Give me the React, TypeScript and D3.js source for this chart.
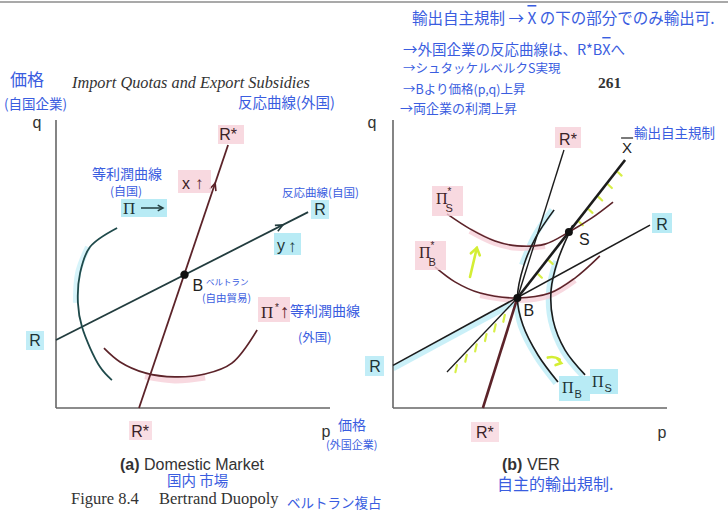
import React from 'react';
import * as d3 from 'd3';

type Pt = [number, number];

// ---- (a) Domestic Market: Bertrand equilibrium (price space, 0–100) ----
const homeReactionA: Pt[] = [[0, 23.6], [92, 68]];
const foreignReactionA: Pt[] = [[30.3, 0], [62.8, 91.3]];
const bertrandA: Pt = [46.9, 46.3];
const homeIsoProfitA: Pt[] = [[22.3, 62.5], [12.4, 55.9], [8.8, 46.9], [8.0, 36.5], [9.5, 28.1], [16.1, 14.2], [20.4, 9.7]];
const foreignIsoProfitA: Pt[] = [[17.5, 20.8], [23.4, 16], [32.5, 12.2], [43.4, 10.8], [54.4, 11.8], [64.2, 15.6], [73.4, 27.1]];

// ---- (b) VER: export cap turns B into the Stackelberg point S ----
const homeReactionB: Pt[] = [[0, 14.8], [93.8, 63.5]];
const foreignReactionB: Pt[] = [[32.8, 0], [62.4, 89.6]];
const bertrandB: Pt = [45.4, 38.2];
const stackelbergB: Pt = [64.2, 61.1];
const exportCapTop: Pt = [84.7, 86.1];
const exportCapLow: Pt = [19.7, 12.5];
const foreignIsoS: Pt[] = [[19.7, 67.4], [28.1, 62.2], [37.2, 58.0], [45.3, 56.3], [55.5, 56.9], [64.2, 61.1], [72.6, 66.0], [80.3, 71.5]];
const foreignIsoB: Pt[] = [[15.3, 49.0], [22.6, 43.8], [31.8, 39.9], [45.4, 38.2], [57.3, 39.9], [66.4, 45.1], [75.5, 52.8]];
const homeIsoB: Pt[] = [[58.8, 68.8], [52.2, 59.4], [47.8, 49.7], [45.4, 38.2], [47.4, 28.8], [52.9, 18.4], [60.2, 9.0]];
const homeIsoS: Pt[] = [[65.6, 63.5], [60.2, 51.4], [57.7, 41.0], [58.4, 30.6], [62.8, 20.1], [70.1, 11.5]];

// Annotation notes
const notesTop = [
  '→外国企業の反応曲線は、R*B',
  '→シュタッケルベルクS実現',
  '→Bより価格(p,q)上昇',
  '→両企業の利潤上昇',
];

const sans = "'Liberation Sans', Arial, sans-serif";
const serif = "'Liberation Serif', 'Times New Roman', serif";
const hand = "'Noto Sans CJK JP', sans-serif";
const BLUE = '#3a5de0';
const CYAN = '#a6e6f3';
const PINK = '#f6d0d8';
const YEL = '#d4ee34';
const TEAL = '#223c3e';
const MAROON = '#5c2329';
const INK = '#1c1c1c';

function chevron(tip: Pt, from: Pt, len = 8, spread = 0.42) {
  const a = Math.atan2(tip[1] - from[1], tip[0] - from[0]);
  const p1 = [tip[0] - len * Math.cos(a - spread), tip[1] - len * Math.sin(a - spread)];
  const p2 = [tip[0] - len * Math.cos(a + spread), tip[1] - len * Math.sin(a + spread)];
  return `M${p1[0]},${p1[1]}L${tip[0]},${tip[1]}L${p2[0]},${p2[1]}`;
}

function lerp(a: Pt, b: Pt, t: number): Pt {
  return [a[0] + (b[0] - a[0]) * t, a[1] + (b[1] - a[1]) * t];
}

export default function App() {
  const xA = d3.scaleLinear().domain([0, 100]).range([56, 330]);
  const xB = d3.scaleLinear().domain([0, 100]).range([393, 667]);
  const y = d3.scaleLinear().domain([0, 100]).range([408, 120]);

  const pa = (d: Pt): Pt => [xA(d[0]), y(d[1])];
  const pb = (d: Pt): Pt => [xB(d[0]), y(d[1])];

  const straightA = d3.line<Pt>().x(d => xA(d[0])).y(d => y(d[1]));
  const smoothA = d3.line<Pt>().x(d => xA(d[0])).y(d => y(d[1])).curve(d3.curveCatmullRom.alpha(0.5));
  const straightB = d3.line<Pt>().x(d => xB(d[0])).y(d => y(d[1]));
  const smoothB = d3.line<Pt>().x(d => xB(d[0])).y(d => y(d[1])).curve(d3.curveCatmullRom.alpha(0.5));

  // arrowheads on the reaction lines in (a)
  const rTip = pa(lerp(homeReactionA[0], homeReactionA[1], 0.9));
  const rFrom = pa(homeReactionA[0]);
  const rsTip = pa(lerp(foreignReactionA[0], foreignReactionA[1], 0.855));
  const rsFrom = pa(foreignReactionA[0]);

  // hatch marks showing the feasible side of the export cap
  const Bp = pb(bertrandB);
  const Tp = pb(exportCapTop);
  const Lp = pb(exportCapLow);
  const dirU = [Tp[0] - Bp[0], Tp[1] - Bp[1]];
  const nU = Math.hypot(dirU[0], dirU[1]);
  const perpU: Pt = [-dirU[1] / nU, dirU[0] / nU]; // lower-right side
  const hatchUpper = [0.18, 0.28, 0.56, 0.65, 0.74, 0.83, 0.92].map(t => {
    const p = lerp(Bp, Tp, t);
    return `M${p[0] + perpU[0] * 2},${p[1] + perpU[1] * 2}l${perpU[0] * 7 - 2},${perpU[1] * 7 - 1}`;
  });
  const hatchLower = [0.2, 0.33, 0.46, 0.6, 0.74, 0.88].map(t => {
    const p = lerp(Bp, Lp, t);
    return `M${p[0] + 1.5},${p[1] + 2}l-1.5,7`;
  });

  const Sp = pb(stackelbergB);
  const Ap = pa(bertrandA);

  return (
    <svg width={728} height={512} viewBox="0 0 728 512" style={{ display: 'block', background: '#fff' }}>
      <style>{'body{margin:0}'}</style>
      <rect width={728} height={512} fill="#fff" />
      <line x1={0} x2={728} y1={2} y2={2} stroke="#a9a9a9" strokeWidth={2} />

      {/* running head */}
      <text x={72} y={88} fontFamily={serif} fontStyle="italic" fontSize={16.3} fill="#333">Import Quotas and Export Subsidies</text>
      <text x={598} y={88} fontFamily={serif} fontWeight="bold" fontSize={15.5} fill="#333">261</text>

      {/* ===== panel (a) ===== */}
      <g>
        {/* highlights */}
        <path d={smoothA(homeIsoProfitA.slice(1, 4)) || ''} fill="none" stroke={CYAN} strokeWidth={6} opacity={0.45} transform="translate(-2,0)" />
        <path d={smoothA(foreignIsoProfitA.slice(2, 5)) || ''} fill="none" stroke={PINK} strokeWidth={7} opacity={0.8} transform="translate(0,3)" />

        <line x1={xA(0)} x2={xA(0)} y1={y(0)} y2={y(100)} stroke="#666" strokeWidth={1.6} />
        <line x1={xA(0)} x2={xA(100)} y1={y(0)} y2={y(0)} stroke="#666" strokeWidth={1.6} />

        <path d={straightA(homeReactionA) || ''} stroke={TEAL} strokeWidth={1.8} fill="none" />
        <path d={straightA(foreignReactionA) || ''} stroke={MAROON} strokeWidth={1.8} fill="none" />
        <path d={chevron(rTip, rFrom)} stroke={TEAL} strokeWidth={1.6} fill="none" />
        <path d={chevron(rsTip, rsFrom)} stroke={MAROON} strokeWidth={1.6} fill="none" />
        <path d={smoothA(homeIsoProfitA) || ''} stroke="#1f4a4b" strokeWidth={1.8} fill="none" />
        <path d={smoothA(foreignIsoProfitA) || ''} stroke={MAROON} strokeWidth={1.7} fill="none" />
        <circle cx={Ap[0]} cy={Ap[1]} r={4.2} fill="#111" />

        {/* label tags */}
        <rect x={218} y={125} width={26} height={19} fill={PINK} opacity={0.8} />
        <rect x={129} y={421} width={23} height={19} fill={PINK} opacity={0.7} />
        <rect x={178} y={170} width={33} height={23} fill={PINK} opacity={0.8} />
        <rect x={258} y={297} width={32} height={25} fill={PINK} opacity={0.8} />
        <rect x={26} y={331} width={18} height={19} fill={CYAN} opacity={0.7} />
        <rect x={311} y={200} width={18} height={19} fill={CYAN} opacity={0.7} />
        <rect x={274} y={233} width={27} height={22} fill={CYAN} opacity={0.8} />
        <rect x={121} y={199} width={46} height={18} fill={CYAN} opacity={0.8} />

        <text x={37} y={128} textAnchor="middle" fontFamily={sans} fontSize={16} fill="#333">q</text>
        <text x={326} y={437} textAnchor="middle" fontFamily={sans} fontSize={16} fill="#333">p</text>
        <text x={xA(foreignReactionA[1][0])} y={140} textAnchor="middle" fontFamily={sans} fontSize={16} fill="#3a2226">R*</text>
        <text x={xA(foreignReactionA[0][0]) + 1} y={437} textAnchor="middle" fontFamily={sans} fontSize={16} fill="#3a2226">R*</text>
        <text x={xA(homeReactionA[1][0]) + 12} y={215} textAnchor="middle" fontFamily={sans} fontSize={16} fill="#1d3335">R</text>
        <text x={35} y={346} textAnchor="middle" fontFamily={sans} fontSize={16} fill="#1d3335">R</text>
        <text x={Ap[0] + 8} y={Ap[1] + 16} fontFamily={sans} fontSize={16} fill="#222">B</text>
        <text x={182} y={189} fontFamily={sans} fontSize={16} fill="#3a2226">x</text>
        <text x={195} y={189} fontFamily={sans} fontSize={17} fill={MAROON}>↑</text>
        <text x={277} y={251} fontFamily={sans} fontSize={16} fill="#1d3335">y</text>
        <text x={288} y={252} fontFamily={sans} fontSize={17} fill={TEAL}>↑</text>
        <text x={123} y={214} fontFamily={serif} fontSize={17} fill="#1d3335">Π</text>
        <line x1={141} x2={162} y1={208} y2={208} stroke={TEAL} strokeWidth={1.5} />
        <path d={chevron([163, 208], [140, 208], 6, 0.5)} stroke={TEAL} strokeWidth={1.5} fill="none" />
        <text x={261} y={318} fontFamily={serif} fontSize={17} fill="#3a2226">Π</text>
        <text x={275} y={311} fontFamily={sans} fontSize={10} fill="#3a2226">*</text>
        <text x={280} y={318} fontFamily={sans} fontSize={19} fill={MAROON}>↑</text>

        {/* handwritten notes */}
        <g fontFamily={hand} fill={BLUE}>
          <text x={10} y={86} fontSize={17}>価格</text>
          <text x={4} y={109} fontSize={13.5}>(自国企業)</text>
          <text x={238} y={108} fontSize={14.5}>反応曲線(外国)</text>
          <text x={92} y={179} fontSize={14}>等利潤曲線</text>
          <text x={110} y={196} fontSize={12}>(自国)</text>
          <text x={282} y={197} fontSize={11.5}>反応曲線(自国)</text>
          <text x={206} y={285} fontSize={8.5}>ベルトラン</text>
          <text x={202} y={302} fontSize={10.5}>(自由貿易)</text>
          <text x={290} y={316} fontSize={14}>等利潤曲線</text>
          <text x={298} y={342} fontSize={12.5}>(外国)</text>
          <text x={338} y={430} fontSize={14}>価格</text>
          <text x={326} y={449} fontSize={11}>(外国企業)</text>
          <text x={167} y={486} fontSize={14.5}>国内 市場</text>
          <text x={287} y={508} fontSize={13.5}>ベルトラン複占</text>
        </g>

        <text x={120} y={470} fontFamily={sans} fontSize={16} fill="#333"><tspan fontWeight="bold">(a)</tspan> Domestic Market</text>
        <text x={71} y={504} fontFamily={serif} fontSize={16.5} fill="#333">Figure 8.4</text>
        <text x={159} y={504} fontFamily={serif} fontSize={16.5} fill="#333">Bertrand Duopoly</text>
      </g>

      {/* ===== panel (b) ===== */}
      <g>
        {/* highlights */}
        <path d={straightB([homeReactionB[0], bertrandB]) || ''} stroke={CYAN} strokeWidth={6} opacity={0.6} fill="none" transform="translate(0,3)" />
        <path d={smoothB(homeIsoB.slice(0, 3)) || ''} stroke={CYAN} strokeWidth={6} opacity={0.6} fill="none" transform="translate(-2,0)" />
        <path d={smoothB(homeIsoB.slice(3)) || ''} stroke={CYAN} strokeWidth={6} opacity={0.6} fill="none" transform="translate(-2,1)" />
        <path d={smoothB(homeIsoS.slice(1)) || ''} stroke={CYAN} strokeWidth={6} opacity={0.6} fill="none" transform="translate(-2,1)" />
        <path d={smoothB(foreignIsoS.slice(1, 5)) || ''} stroke={PINK} strokeWidth={6} opacity={0.8} fill="none" transform="translate(0,2)" />
        <path d={smoothB(foreignIsoB.slice(2, 6)) || ''} stroke={PINK} strokeWidth={6} opacity={0.8} fill="none" transform="translate(0,2)" />

        <line x1={xB(0)} x2={xB(0)} y1={y(0)} y2={y(100)} stroke="#666" strokeWidth={1.6} />
        <line x1={xB(0)} x2={xB(100)} y1={y(0)} y2={y(0)} stroke="#666" strokeWidth={1.6} />

        {/* export cap hatching */}
        <g stroke={YEL} strokeWidth={2.2} strokeLinecap="round" opacity={0.9}>
          {hatchUpper.map((d, i) => <path key={'u' + i} d={d} />)}
          {hatchLower.map((d, i) => <path key={'l' + i} d={d} />)}
        </g>

        <path d={straightB(homeReactionB) || ''} stroke={INK} strokeWidth={1.6} fill="none" />
        <path d={straightB([bertrandB, foreignReactionB[1]]) || ''} stroke={INK} strokeWidth={1.4} fill="none" />
        <path d={straightB([foreignReactionB[0], bertrandB]) || ''} stroke={MAROON} strokeWidth={2.6} fill="none" />
        <path d={straightB([bertrandB, exportCapTop]) || ''} stroke={INK} strokeWidth={2.6} fill="none" />
        <path d={straightB([bertrandB, exportCapLow]) || ''} stroke={INK} strokeWidth={1.3} fill="none" />

        <path d={smoothB(foreignIsoS) || ''} stroke={MAROON} strokeWidth={1.6} fill="none" />
        <path d={smoothB(foreignIsoB) || ''} stroke={MAROON} strokeWidth={1.6} fill="none" />
        <path d={smoothB(homeIsoB) || ''} stroke={INK} strokeWidth={1.6} fill="none" />
        <path d={smoothB(homeIsoS) || ''} stroke={INK} strokeWidth={1.6} fill="none" />

        <circle cx={Bp[0]} cy={Bp[1]} r={4} fill="#111" />
        <circle cx={Sp[0]} cy={Sp[1]} r={4} fill="#111" />

        {/* direction-of-improvement arrows */}
        <g stroke={YEL} strokeWidth={2.6} fill="none" strokeLinecap="round">
          <line x1={xB(28.1)} y1={y(45.5)} x2={xB(30.6)} y2={y(55.6)} />
          <path d={chevron(pb([30.6, 55.6]), pb([28.1, 45.5]), 8, 0.6)} />
          <path d={`M${xB(56.5)},${y(17.5)}q6,-2,12,2`} />
          <path d={chevron([xB(61.4), y(15.6)], [xB(56), y(17)], 6, 0.6)} />
        </g>

        {/* label tags */}
        <rect x={555} y={127} width={26} height={21} fill={PINK} opacity={0.8} />
        <rect x={471} y={422} width={28} height={20} fill={PINK} opacity={0.7} />
        <rect x={432} y={186} width={31} height={30} fill={PINK} opacity={0.8} />
        <rect x={415} y={241} width={31} height={29} fill={PINK} opacity={0.8} />
        <rect x={652} y={213} width={20} height={20} fill={CYAN} opacity={0.8} />
        <rect x={365} y={356} width={19} height={20} fill={CYAN} opacity={0.7} />
        <rect x={559} y={376} width={31} height={25} fill={CYAN} opacity={0.8} />
        <rect x={590} y={369} width={28} height={25} fill={CYAN} opacity={0.8} />

        <text x={372} y={128} textAnchor="middle" fontFamily={sans} fontSize={16} fill="#333">q</text>
        <text x={662} y={438} textAnchor="middle" fontFamily={sans} fontSize={16} fill="#333">p</text>
        <text x={xB(foreignReactionB[1][0]) + 4} y={145} textAnchor="middle" fontFamily={sans} fontSize={16} fill="#3a2226">R*</text>
        <text x={xB(foreignReactionB[0][0]) + 2} y={438} textAnchor="middle" fontFamily={sans} fontSize={16} fill="#3a2226">R*</text>
        <text x={xB(exportCapTop[0]) + 2} y={153} textAnchor="middle" fontFamily={sans} fontSize={15} fill="#222">X</text>
        <line x1={xB(exportCapTop[0]) - 4} x2={xB(exportCapTop[0]) + 8} y1={138} y2={138} stroke="#222" strokeWidth={1.2} />
        <text x={Sp[0] + 10} y={Sp[1] + 13} fontFamily={sans} fontSize={16} fill="#222">S</text>
        <text x={Bp[0] + 6} y={Bp[1] + 18} fontFamily={sans} fontSize={16} fill="#222">B</text>
        <text x={662} y={230} textAnchor="middle" fontFamily={sans} fontSize={16} fill="#1d3335">R</text>
        <text x={375} y={372} textAnchor="middle" fontFamily={sans} fontSize={16} fill="#1d3335">R</text>

        <text x={436} y={204} fontFamily={serif} fontSize={16} fill="#3a2226">Π<tspan dx={0} dy={-9} fontFamily={sans} fontSize={10}>*</tspan><tspan dx={-6} dy={17} fontFamily={sans} fontSize={11}>S</tspan></text>
        <text x={419} y={258} fontFamily={serif} fontSize={16} fill="#3a2226">Π<tspan dx={0} dy={-9} fontFamily={sans} fontSize={10}>*</tspan><tspan dx={-6} dy={17} fontFamily={sans} fontSize={11}>B</tspan></text>
        <text x={562} y={393} fontFamily={serif} fontSize={16} fill="#1d3335">Π<tspan dx={1} dy={5} fontFamily={sans} fontSize={11}>B</tspan></text>
        <text x={592} y={387} fontFamily={serif} fontSize={16} fill="#1d3335">Π<tspan dx={1} dy={5} fontFamily={sans} fontSize={11}>S</tspan></text>

        <text x={502} y={470} fontFamily={sans} fontSize={16} fill="#333"><tspan fontWeight="bold">(b)</tspan> VER</text>

        {/* handwritten notes */}
        <g fontFamily={hand} fill={BLUE}>
          <text x={412} y={24} fontSize={15.5}>輸出自主規制 → <tspan style={{ textDecoration: 'overline' }}>X</tspan> の下の部分でのみ輸出可.</text>
          <text x={403} y={55} fontSize={14.5}>{notesTop[0]}<tspan style={{ textDecoration: 'overline' }}>X</tspan>へ</text>
          <text x={403} y={73} fontSize={12.5}>{notesTop[1]}</text>
          <text x={403} y={94} fontSize={12.5}>{notesTop[2]}</text>
          <text x={400} y={113} fontSize={13}>{notesTop[3]}</text>
          <text x={634} y={138} fontSize={13.5}>輸出自主規制</text>
          <text x={497} y={490} fontSize={16}>自主的輸出規制.</text>
        </g>
      </g>
    </svg>
  );
}
